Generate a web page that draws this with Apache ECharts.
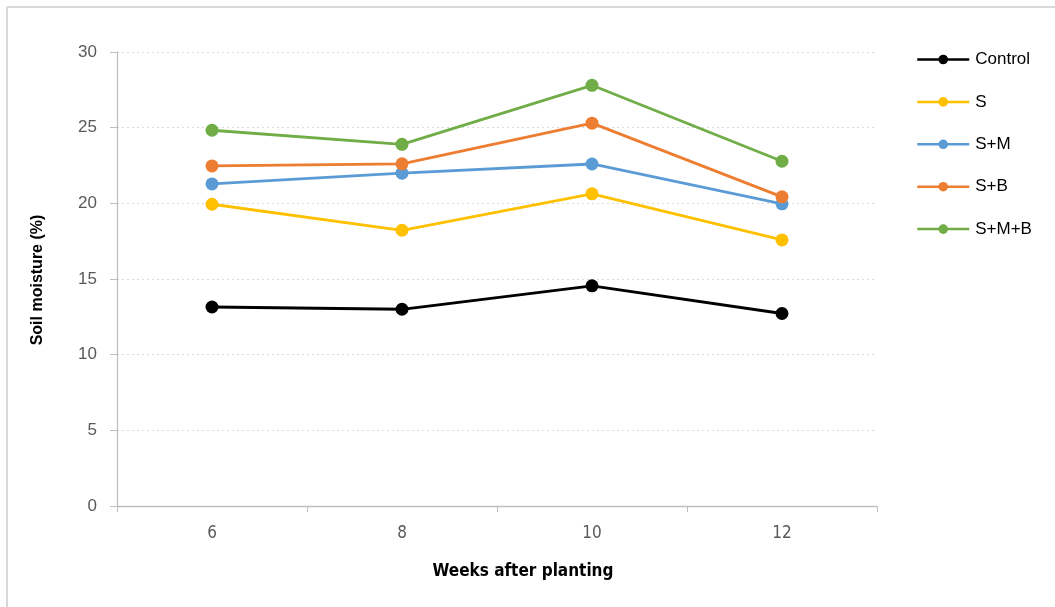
<!DOCTYPE html>
<html>
<head>
<meta charset="utf-8">
<script src="https://cdn.jsdelivr.net/npm/echarts@6/dist/echarts.min.js"></script>
<style>
  html, body { margin: 0; padding: 0; background: #fff; }
  #chart { width: 1055px; height: 607px; }
</style>
</head>
<body>
<div id="chart"></div>
<script>
// Weeks after planting
const weeks = ['6', '8', '10', '12'];

// Soil moisture (%) per treatment
const control = [13.15, 13.0, 14.55, 12.72];
const sOnly   = [19.94, 18.22, 20.63, 17.58];
const sM      = [21.28, 21.99, 22.6, 19.97];
const sB      = [22.47, 22.61, 25.3, 20.43];
const sMB     = [24.83, 23.9, 27.8, 22.78];

const yTicks = [0, 5, 10, 15, 20, 25, 30];

const seriesDefs = [
  { name: 'Control', data: control, color: '#000000' },
  { name: 'S',       data: sOnly,   color: '#FFC000' },
  { name: 'S+M',     data: sM,      color: '#5B9BD5' },
  { name: 'S+B',     data: sB,      color: '#ED7D31' },
  { name: 'S+M+B',   data: sMB,     color: '#70AD47' }
];

const narrow = '"DejaVu Sans Condensed", "Liberation Sans", sans-serif';

const chart = echarts.init(document.getElementById('chart'), null, { renderer: 'canvas' });

chart.setOption({
  animation: false,
  backgroundColor: '#ffffff',
  grid: { left: 117, right: 178, top: 52, bottom: 101 },
  legend: {
    orient: 'vertical',
    left: 911,
    top: 46,
    itemWidth: 52,
    itemHeight: 12,
    itemGap: 25.4,
    itemStyle: { borderWidth: 0 },
    lineStyle: { width: 2.5 },
    textStyle: { fontFamily: 'Liberation Sans', fontSize: 17, color: '#000', padding: [0, 0, 0, 1] },
    data: seriesDefs.map(s => s.name)
  },
  xAxis: {
    type: 'category',
    data: weeks,
    boundaryGap: true,
    axisLine: { lineStyle: { color: '#bfbfbf', width: 1.3 } },
    axisTick: { show: true, length: 6, inside: false, lineStyle: { color: '#bfbfbf' } },
    axisLabel: { margin: 19, fontFamily: narrow, fontSize: 17, color: '#595959' },
    splitLine: { show: false }
  },
  yAxis: {
    type: 'value',
    min: yTicks[0],
    max: yTicks[yTicks.length - 1],
    interval: 5,
    axisLine: { show: true, lineStyle: { color: '#bfbfbf', width: 1.3 } },
    axisTick: { show: true, length: 7, lineStyle: { color: '#bfbfbf' } },
    axisLabel: { margin: 20, fontFamily: 'Liberation Sans', fontSize: 17, color: '#595959' },
    splitLine: { show: true, lineStyle: { color: '#d9d9d9', type: [2, 3], width: 1 } }
  },
  graphic: [
    { type: 'line', shape: { x1: 7, y1: 7, x2: 1055, y2: 7 }, style: { stroke: '#d9d9d9', lineWidth: 2 } },
    { type: 'line', shape: { x1: 7, y1: 7, x2: 7, y2: 607 }, style: { stroke: '#d9d9d9', lineWidth: 2 } },
    {
      type: 'text', x: 523, y: 572,
      style: { text: 'Weeks after planting', font: 'bold 17px ' + narrow, fill: '#000',
               align: 'center', verticalAlign: 'middle' }
    },
    {
      type: 'text', x: 38, y: 280, rotation: Math.PI / 2,
      style: { text: 'Soil moisture (%)', font: 'bold 16px "Liberation Sans"', fill: '#000',
               align: 'center', verticalAlign: 'middle' }
    }
  ],
  series: seriesDefs.map(s => ({
    name: s.name,
    type: 'line',
    data: s.data,
    symbol: 'circle',
    symbolSize: 13,
    showAllSymbol: true,
    lineStyle: { color: s.color, width: 2.8 },
    itemStyle: { color: s.color },
    emphasis: { disabled: true }
  }))
});
</script>
</body>
</html>
